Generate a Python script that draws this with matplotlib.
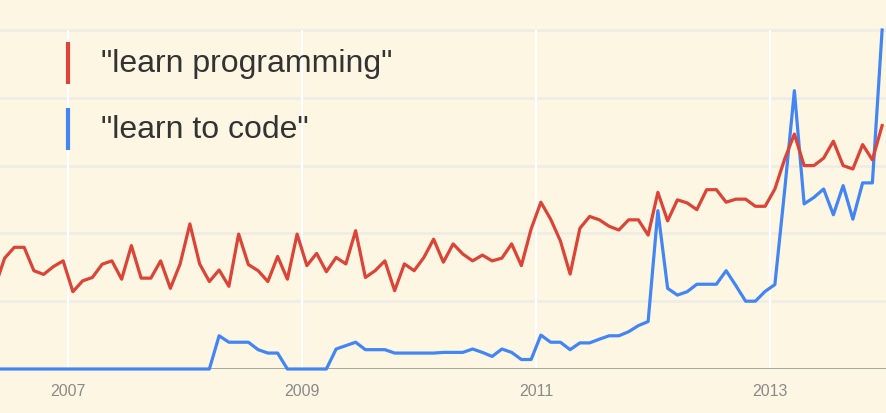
import numpy as np
import matplotlib.pyplot as plt

# monthly points, May 2006 .. Dec 2013 (plotted mid-month)
learn_programming = [
    24.2, 32.7, 35.9, 35.9, 29.0, 27.9, 30.2, 31.9,
    22.8, 26.0, 27.0, 30.9, 31.9, 26.5, 36.4, 26.8, 26.8, 31.9, 23.8, 31.0,
    42.8, 31.0, 25.8, 29.2, 24.4, 39.8, 30.8, 29.0, 25.8, 33.2, 26.5, 39.8,
    30.5, 34.1, 28.7, 32.9, 31.0, 40.8, 27.0, 29.0, 31.9, 23.1, 31.0, 29.0,
    32.9, 38.3, 31.5, 36.9, 33.9, 31.9, 33.6, 31.9, 32.7, 36.9, 30.5, 41.3,
    49.2, 44.2, 37.8, 28.0, 41.5, 45.0, 44.0, 42.1, 41.0, 44.0, 44.0, 39.5,
    52.1, 43.7, 49.9, 49.0, 47.0, 52.9, 52.9, 49.2, 50.1, 50.1, 48.0, 48.0,
    53.1, 61.9, 69.3, 60.0, 60.0, 62.2, 67.2, 60.0, 59.0, 66.2, 61.7, 71.8,
]
learn_to_code = [
    0, 0, 0, 0, 0, 0, 0, 0,
    0, 0, 0, 0, 0, 0, 0, 0, 0, 0, 0, 0,
    0, 0, 0, 9.8, 7.9, 7.9, 7.9, 5.7, 4.7, 4.7, 0, 0,
    0, 0, 0, 5.9, 6.9, 7.9, 5.7, 5.7, 5.7, 4.7, 4.7, 4.7,
    4.7, 4.7, 4.9, 4.9, 4.9, 5.9, 4.9, 3.7, 5.9, 4.9, 2.8, 2.8,
    10.0, 7.9, 7.9, 5.7, 7.7, 7.7, 8.8, 9.8, 9.8, 11.0, 12.8, 14.0,
    46.7, 23.8, 21.8, 22.8, 25.0, 25.0, 25.0, 29.0, 24.6, 20.0, 20.0, 22.9,
    24.9, 52.6, 82.1, 48.7, 50.6, 53.1, 45.5, 54.1, 44.2, 54.9, 54.9, 100,
]
years = [2007, 2009, 2011, 2013]
labels = ['"learn programming"', '"learn to code"']

dates = 2006 + (4.5 + np.arange(len(learn_programming))) / 12

bg = "#fdf6e3"
red = "#db4437"
blue = "#4285f4"

fig = plt.figure(figsize=(8.86, 4.14), dpi=100, facecolor=bg)
ax = fig.add_axes([0, 44 / 414, 1, 370 / 414])
ax.set_facecolor(bg)
ax.set_xlim(2007 - 68 / 117, 2007 + 818 / 117)
ax.set_ylim(0, 370 / 3.39)

for v in [20, 40, 60, 80, 100]:
    ax.axhline(v, color="#efece6", lw=2, zorder=1)
for yr in years:
    ax.vlines(yr, 0, 100, color="white", lw=1.6, zorder=1)
ax.axhline(0, color="#9e9e9e", lw=2, zorder=2)

ax.plot(dates, learn_programming, color=red, lw=2.3, zorder=4, clip_on=False)
ax.plot(dates, learn_to_code, color=blue, lw=2.3, zorder=3, clip_on=False)

for sp in ax.spines.values():
    sp.set_visible(False)
ax.set_yticks([])
ax.set_xticks(years)
ax.set_xticklabels([str(y) for y in years], color="#8a8a8a", fontsize=11.5,
                   family="Liberation Sans")
ax.tick_params(axis="x", length=0, pad=10)

# legend as bars + text
for i, (lab, col) in enumerate(zip(labels, [red, blue])):
    yc = 64 + i * 66
    fig.add_artist(plt.Line2D([68 / 886, 68 / 886],
                              [1 - (yc - 21) / 414, 1 - (yc + 21) / 414],
                              color=col, lw=3, solid_capstyle="butt"))
    fig.text(101 / 886, 1 - yc / 414, lab, fontsize=23, color="#333333",
             family="Liberation Sans", va="center", ha="left")

fig.savefig("out.png", dpi=100, facecolor=bg)
